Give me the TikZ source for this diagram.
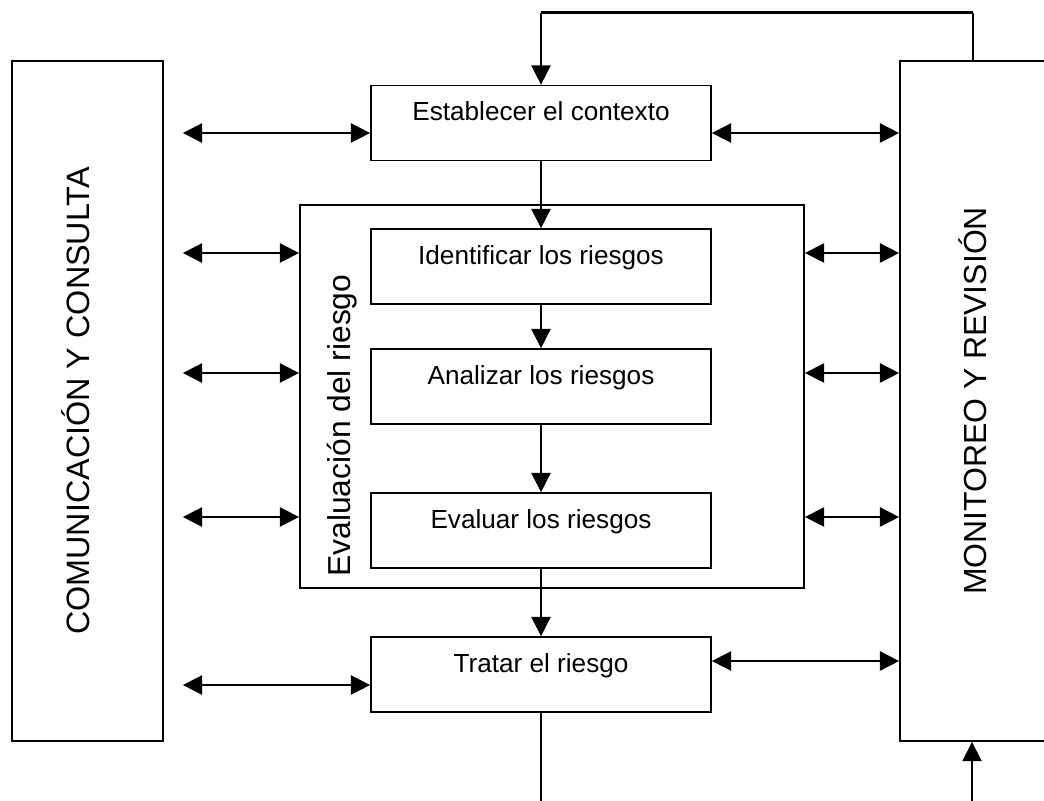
\documentclass[tikz,border=0pt]{standalone}
\usepackage{fontspec}
\setmainfont{Liberation Sans}
\usetikzlibrary{arrows.meta, positioning}

\tikzset{
  paso/.style={draw, line width=1.2pt, minimum width=8.5cm, inner ysep=0pt,
    text height=0.875cm, text depth=1cm, font=\fontsize{18.6}{22}\selectfont},
  lado/.style={draw, line width=1.2pt, rotate=90, minimum width=17cm, inner ysep=0pt},
  flecha/.style={line width=1.2pt, -{Triangle[length=4.8mm, width=4.8mm]}},
  doble/.style={line width=1.2pt, {Triangle[length=4.8mm, width=4.8mm]}-{Triangle[length=4.8mm, width=4.8mm]}},
}

\begin{document}
\begin{tikzpicture}[x=0.025cm, y=-0.025cm]
  \useasboundingbox (0,0) rectangle (1044,801);
  \clip (0,0) rectangle (1044,801);

  \node[lado, text height=1.925cm, text depth=1.85cm, font=\fontsize{23}{27}\selectfont] (com) at (87.5,401) {COMUNICACIÓN Y CONSULTA};
  \node[lado, text height=2.15cm, text depth=1.625cm, font=\fontsize{22.7}{27}\selectfont] (mon) at (975.5,401) {MONITOREO Y REVISIÓN};

  \node[paso] (ctx) at (541,123) {Establecer el contexto};
  \node[draw, line width=1.2pt, minimum width=12.6cm, minimum height=9.575cm] (eval) at (552,396.5) {};
  \node[rotate=90, anchor=base west, inner sep=0pt, font=\fontsize{22.6}{26}\selectfont] (evallbl) at (350,577) {Evaluación del riesgo};
  \node[paso] (idf) at (541,266.5) {Identificar los riesgos};
  \node[paso] (ana) at (541,386.5) {Analizar los riesgos};
  \node[paso] (evr) at (541,530.5) {Evaluar los riesgos};
  \node[paso] (trt) at (541,674.5) {Tratar el riesgo};

  \draw[flecha] (ctx) -- (idf);
  \draw[flecha] (idf) -- (ana);
  \draw[flecha] (ana) -- (evr);
  \draw[flecha] (evr) -- (trt);

  \coordinate (fbr) at (973,12.7);
  \coordinate (fbl) at (fbr -| ctx.north);
  \draw[line width=1.2pt] (mon.east -| fbr) -- (fbr);
  \draw[line width=2.2pt] (fbr) -- (fbl);
  \draw[flecha] (fbl) -- (ctx.north);

  \coordinate (sal) at (541,801);
  \coordinate (ent) at (972,801);
  \draw[line width=1.2pt] (trt.south) -- (sal);
  \draw[flecha] (ent) -- (ent |- mon.west);

  \draw[doble] ([xshift=0.475cm]com.south |- 0,133) -- (ctx.west |- 0,133);
  \draw[doble] (ctx.east |- 0,133) -- (mon.north |- 0,133);
  \draw[doble] ([xshift=0.475cm]com.south |- 0,685) -- (trt.west |- 0,685);
  \draw[doble] (trt.east |- 0,661) -- (mon.north |- 0,661);
  \foreach \y in {253,373,517} {
    \draw[doble] ([xshift=0.475cm]com.south |- 0,\y) -- (eval.west |- 0,\y);
    \draw[doble] (eval.east |- 0,\y) -- (mon.north |- 0,\y);
  }
\end{tikzpicture}
\end{document}
